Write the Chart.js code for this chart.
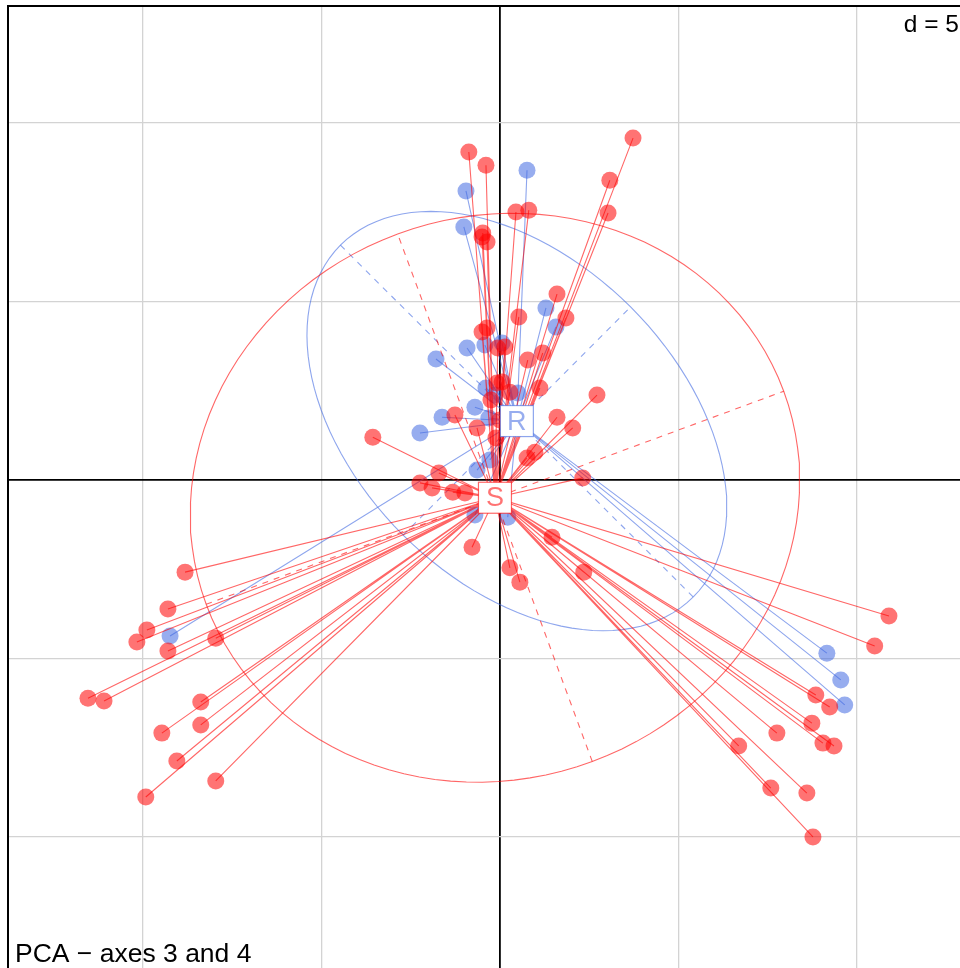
<!DOCTYPE html>
<html><head><meta charset="utf-8">
<script src="https://cdn.jsdelivr.net/npm/chart.js@4.4.1/dist/chart.umd.min.js"></script>
<style>html,body{margin:0;padding:0;background:#fff;overflow:hidden}canvas{display:block}</style>
</head><body>
<canvas id="c" width="960" height="968"></canvas>
<script>
// ---- data (PCA scores, axes 3 and 4) ----
const groupNames = ['R', 'S'];
const rX = [0.76,-0.95,-1.01,1.29,1.57,-0.92,-1.79,-0.42,0.06,-0.70,-1.62,-2.24,-0.64,-0.28,-0.70,0.22,-9.24,9.16,9.55,9.66,0.50,
            -0.14,-0.39,-0.31];
const rY = [8.68,8.10,7.09,4.82,4.29,3.70,3.39,3.78,3.84,2.04,1.76,1.32,0.28,0.56,-0.98,-1.04,-4.37,-4.85,-5.60,-6.30,2.44,
            2.38,2.58,1.74];
const sX = [-0.87,-0.39,3.73,3.08,3.03,0.45,0.81,-0.48,-0.50,-0.36,1.60,1.85,0.53,-0.36,-0.50,0.14,0.78,1.20,0.06,1.12,
            -1.26,-0.64,1.60,2.04,2.72,0.98,0.76,-1.71,-2.24,-1.90,-1.32,-0.98,2.32,-3.56,-0.78,0.28,0.56,1.46,2.35,
            -8.82,-9.30,-9.89,-10.17,-9.30,-7.96,-11.54,-11.09,-8.38,-9.47,-8.38,-9.05,-9.92,-7.96,
            10.90,10.50,8.85,9.24,8.74,7.76,9.05,9.36,6.69,7.59,8.60,8.77,
            -0.11,-0.06,-0.08,0.28,0.00,-0.25];
const sY = [9.19,8.82,9.58,8.40,7.48,7.51,7.56,6.92,6.81,6.67,5.21,4.54,4.57,4.26,4.15,3.73,3.36,3.56,2.75,2.58,
            1.82,1.46,1.76,1.46,2.38,0.78,0.62,0.20,-0.08,-0.22,-0.34,-0.36,0.06,1.20,-1.88,-2.46,-2.86,-1.60,-2.58,
            -2.58,-3.61,-4.20,-4.54,-4.79,-4.43,-6.11,-6.19,-6.22,-7.09,-6.86,-7.87,-8.88,-8.43,
            -3.81,-4.65,-6.02,-6.36,-6.81,-7.09,-7.37,-7.45,-7.45,-8.63,-8.77,-10.00,
            1.18,3.70,2.72,2.46,1.68,2.24];
const gridTicks = [-10, -5, 0, 5, 10];
const gridLabel = 'd = 5';
const subtitle = 'PCA \u2212 axes 3 and 4';
const xRange = [-13.78, 12.89];
const yRange = [-13.67, 13.28];
const ellipseSize = 1.5;

// ---- styles ----
const blue = 'rgba(65,105,225,0.55)';
const blueLine = 'rgba(65,105,225,0.6)';
const red = 'rgba(255,0,0,0.55)';
const redLine = 'rgba(255,0,0,0.6)';
const FONT = '"Liberation Sans", Arial, Helvetica, sans-serif';

function stats(xs, ys) {
  const n = xs.length;
  let mx = 0, my = 0;
  for (let i = 0; i < n; i++) { mx += xs[i]; my += ys[i]; }
  mx /= n; my /= n;
  let vx = 0, vy = 0, cxy = 0;
  for (let i = 0; i < n; i++) {
    const dx = xs[i] - mx, dy = ys[i] - my;
    vx += dx * dx; vy += dy * dy; cxy += dx * dy;
  }
  vx /= n; vy /= n; cxy /= n;
  const tr = vx + vy, det = vx * vy - cxy * cxy;
  const disc = Math.sqrt(Math.max(0, tr * tr / 4 - det));
  const l1 = tr / 2 + disc, l2 = tr / 2 - disc;
  let v1;
  if (Math.abs(cxy) > 1e-12) v1 = [l1 - vy, cxy]; else v1 = vx >= vy ? [1, 0] : [0, 1];
  const nn = Math.hypot(v1[0], v1[1]); v1 = [v1[0] / nn, v1[1] / nn];
  const v2 = [-v1[1], v1[0]];
  const a = ellipseSize * Math.sqrt(l1), b = ellipseSize * Math.sqrt(Math.max(0, l2));
  return { mx, my, v1, v2, a, b };
}
function ellipsePts(s) {
  const pts = [];
  for (let k = 0; k <= 120; k++) {
    const t = 2 * Math.PI * k / 120;
    const c = Math.cos(t) * s.a, d = Math.sin(t) * s.b;
    pts.push({ x: s.mx + c * s.v1[0] + d * s.v2[0], y: s.my + c * s.v1[1] + d * s.v2[1] });
  }
  return pts;
}
function axisPts(s, v, len) {
  return [{ x: s.mx - len * v[0], y: s.my - len * v[1] }, { x: s.mx + len * v[0], y: s.my + len * v[1] }];
}
function starPts(xs, ys, s) {
  const pts = [];
  for (let i = 0; i < xs.length; i++) { pts.push({ x: xs[i], y: ys[i] }); pts.push({ x: s.mx, y: s.my }); }
  return pts;
}
function pts(xs, ys) { return xs.map((x, i) => ({ x, y: ys[i] })); }

const sR = stats(rX, rY), sS = stats(sX, sY);
const lineDs = (data, color, order, dash) => ({
  type: 'scatter', data, showLine: true, borderColor: color, borderWidth: 1.1, borderDash: dash || [],
  pointRadius: 0, fill: false, tension: 0, order
});

// group R drawn first (underneath), then group S
const datasets = [
  lineDs(ellipsePts(sR), blueLine, 9),
  lineDs(axisPts(sR, sR.v1, sR.a), blueLine, 8, [6, 6]),
  lineDs(axisPts(sR, sR.v2, sR.b), blueLine, 8, [6, 6]),
  lineDs(starPts(rX, rY, sR), blueLine, 7),
  { type: 'scatter', data: pts(rX, rY), pointRadius: 8.5, pointBackgroundColor: blue, pointBorderWidth: 0, order: 6 },
  lineDs(ellipsePts(sS), redLine, 4),
  lineDs(axisPts(sS, sS.v1, sS.a), redLine, 3, [6, 6]),
  lineDs(axisPts(sS, sS.v2, sS.b), redLine, 3, [6, 6]),
  lineDs(starPts(sX, sY, sS), redLine, 2),
  { type: 'scatter', data: pts(sX, sY), pointRadius: 8.5, pointBackgroundColor: red, pointBorderWidth: 0, order: 1 }
];

const decor = {
  id: 'decor',
  beforeDatasetsDraw(chart) {
    const { ctx, chartArea: ca } = chart;
    ctx.save();
    ctx.strokeStyle = '#000'; ctx.lineWidth = 2;
    ctx.beginPath();
    ctx.moveTo(ca.left, ca.bottom + 5); ctx.lineTo(ca.left, ca.top); ctx.lineTo(ca.right + 5, ca.top);
    ctx.stroke();
    ctx.restore();
  },
  afterDatasetsDraw(chart) {
    const { ctx, scales: { x, y } } = chart;
    const labels = [[sR, groupNames[0], 'rgba(65,105,225,0.6)', 'rgba(65,105,225,0.55)'],
                    [sS, groupNames[1], 'rgba(255,0,0,0.6)', 'rgba(255,0,0,0.55)']];
    ctx.save();
    ctx.font = '27px ' + FONT;
    ctx.textAlign = 'center'; ctx.textBaseline = 'middle';
    for (const [s, name, bc, tc] of labels) {
      const px = x.getPixelForValue(s.mx), py = y.getPixelForValue(s.my);
      const w = 33, h = 31;
      ctx.fillStyle = '#fff';
      ctx.fillRect(px - w / 2, py - h / 2, w, h);
      ctx.strokeStyle = bc; ctx.lineWidth = 1.2;
      ctx.strokeRect(px - w / 2, py - h / 2, w, h);
      ctx.fillStyle = tc;
      ctx.fillText(name, px, py + 1);
    }
    ctx.restore();
  },
  afterDraw(chart) {
    const { ctx, chartArea: ca } = chart;
    ctx.save();
    ctx.fillStyle = '#000';
    ctx.textBaseline = 'alphabetic';
    ctx.font = '24.5px ' + FONT;
    ctx.textAlign = 'right';
    ctx.fillText(gridLabel, 959, 32);
    ctx.font = '26.5px ' + FONT;
    ctx.textAlign = 'left';
    ctx.fillText(subtitle, ca.left + 7, 962);
    ctx.restore();
  }
};

const gridColor = c => (c.tick && c.tick.value === 0) ? '#000' : '#d3d3d3';
const gridWidth = c => (c.tick && c.tick.value === 0) ? 1.8 : 1.3;
const setTicks = scale => { scale.ticks = gridTicks.map(v => ({ value: v })); };

new Chart(document.getElementById('c'), {
  type: 'scatter',
  data: { datasets },
  options: {
    responsive: false, animation: false,
    layout: { autoPadding: false, padding: { left: 8, top: 6, right: 0, bottom: 0 } },
    plugins: { legend: { display: false }, tooltip: { enabled: false } },
    scales: {
      x: { type: 'linear', min: xRange[0], max: xRange[1], afterBuildTicks: setTicks,
           ticks: { display: false }, border: { display: false },
           grid: { color: gridColor, lineWidth: gridWidth, drawTicks: false } },
      y: { type: 'linear', min: yRange[0], max: yRange[1], afterBuildTicks: setTicks,
           ticks: { display: false }, border: { display: false },
           grid: { color: gridColor, lineWidth: gridWidth, drawTicks: false } }
    }
  },
  plugins: [decor]
});
</script>
</body></html>
